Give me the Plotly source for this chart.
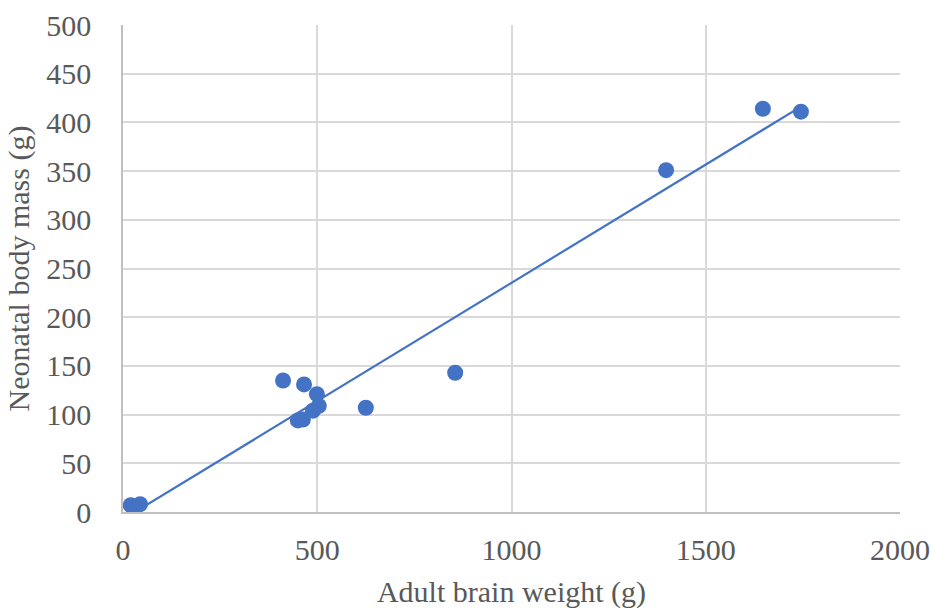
import numpy as np
import plotly.graph_objects as go

brain_weight = [20, 44, 412, 466, 499, 450, 463, 489, 504, 625, 855, 1398, 1647, 1745]
neonatal_mass = [7, 8, 135, 131, 121, 94, 95, 104, 109, 107, 143, 351, 414, 411]
x_ticks = [0, 500, 1000, 1500, 2000]
y_ticks = [0, 50, 100, 150, 200, 250, 300, 350, 400, 450, 500]

slope, intercept = np.polyfit(brain_weight, neonatal_mass, 1)
tx = [min(brain_weight), max(brain_weight)]
ty = [slope * v + intercept for v in tx]

blue = "#4472C4"
font = dict(family="Liberation Serif, Times New Roman, serif", size=30, color="#595959")

fig = go.Figure()
fig.add_trace(go.Scatter(x=tx, y=ty, mode="lines", line=dict(color=blue, width=2.2),
                         showlegend=False, hoverinfo="skip"))
fig.add_trace(go.Scatter(x=brain_weight, y=neonatal_mass, mode="markers",
                         marker=dict(color=blue, size=16), showlegend=False))

fig.update_layout(
    width=932, height=609,
    margin=dict(l=123, r=32, t=25, b=97, autoexpand=False),
    paper_bgcolor="white", plot_bgcolor="white",
    font=font,
)
fig.update_xaxes(range=[0, 2000], tickvals=x_ticks, ticktext=[str(v) for v in x_ticks],
                 showgrid=True, gridcolor="#d9d9d9", gridwidth=1.5,
                 showline=True, linecolor="#bfbfbf", linewidth=1.5,
                 zeroline=False, ticks="", ticklabelstandoff=10, automargin=False,
                 title=dict(text="Adult brain weight (g)", font=font, standoff=16))
fig.update_yaxes(range=[0, 500], tickvals=y_ticks, ticktext=[str(v) for v in y_ticks],
                 showgrid=True, gridcolor="#d9d9d9", gridwidth=1.5,
                 showline=True, linecolor="#bfbfbf", linewidth=1.5,
                 zeroline=False, ticks="", ticklabelstandoff=24, automargin=False,
                 title=dict(text="Neonatal body mass (g)", font=font, standoff=8))

fig.write_html("out.html")
